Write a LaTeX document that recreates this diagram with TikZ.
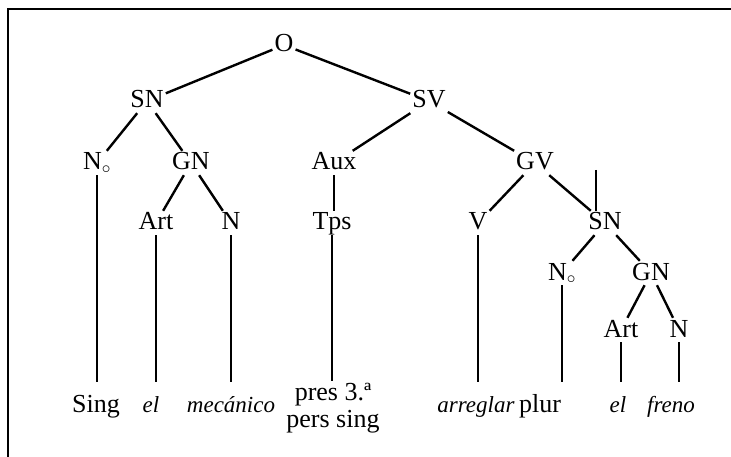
\documentclass[tikz,border=0pt]{standalone}
\usepackage{fontspec}
\setmainfont{Liberation Serif}

\tikzset{
    cat/.style={anchor=base, inner sep=2pt, text height=17pt, text depth=3pt},
    word/.style={anchor=base, inner sep=2pt, text height=28pt, text depth=3pt},
    branch/.style={line width=2.4pt},
    stem/.style={line width=1.6pt}
}

\begin{document}
\begin{tikzpicture}[x=1pt, y=-1pt, font=\fontsize{26}{27}\selectfont]
    \useasboundingbox (0,0) rectangle (731,457);
    \draw[line width=1.8pt] (731,9) -- (8,9) -- (8,457);
    % categories
    \node[cat] (O) at (284,52) {O};
    \node[cat] (SN) at (147,108) {SN};
    \node[cat] (SV) at (429,108) {SV};
    \node[cat] (N0) at (97,170) {N$_\circ$};
    \node[cat] (GN) at (191,170) {GN};
    \node[cat] (Aux) at (334,170) {Aux};
    \node[cat] (GV) at (535,170) {GV};
    \node[cat] (Art) at (156,230) {Art};
    \node[cat] (N) at (231,230) {N};
    \node[cat] (Tps) at (332,230) {Tps};
    \node[cat] (V) at (478,230) {V};
    \node[cat] (SNb) at (605,230) {SN};
    \node[cat] (N0b) at (562,280) {N$_\circ$};
    \node[cat] (GNb) at (651,280) {GN};
    \node[cat] (Artb) at (621,337) {Art};
    \node[cat] (Nb) at (679,337) {N};
    % words
    \node[word] (sing) at (96,412) {Sing};
    \node[word, font=\fontsize{23}{24}\selectfont\itshape] (el) at (151,412) {el};
    \node[word, font=\fontsize{23}{24}\selectfont\itshape] (mecanico) at (231,412) {mecánico};
    \node[anchor=base, align=center, inner sep=2pt] (pres) at (333,427) {pres 3.ª\\pers sing};
    \node[word, font=\fontsize{23}{24}\selectfont\itshape] (arreglar) at (476,412) {arreglar};
    \node[word] (plur) at (540,412) {plur};
    \node[word, font=\fontsize{23}{24}\selectfont\itshape] (elb) at (618,412) {el};
    \node[word, font=\fontsize{23}{24}\selectfont\itshape] (freno) at (671,412) {freno};
    % branches
    \foreach \a/\b in {O/SN, O/SV, SN/N0, SN/GN, SV/Aux, SV/GV, GN/Art, GN/N,
        GV/V, GV/SNb, SNb/N0b, SNb/GNb, GNb/Artb, GNb/Nb}{
        \draw[branch] (\a) -- (\b);
    }
    \foreach \a/\b in {N0/sing, Art/el, N/mecanico, Aux/Tps, Tps/pres, V/arreglar,
        N0b/plur, Artb/elb, Nb/freno}{
        \draw[stem] (\a.south) -- (\a.south |- \b.north);
    }
    \coordinate (tick) at (596,170);
    \draw[stem] (tick) -- (tick |- SNb.north);
\end{tikzpicture}
\end{document}
